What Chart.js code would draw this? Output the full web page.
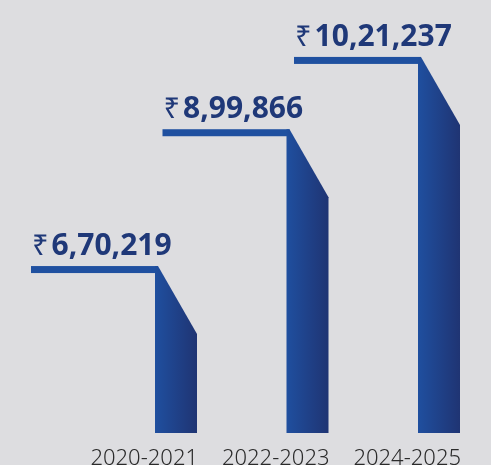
<!DOCTYPE html>
<html>
<head>
<meta charset="utf-8">
<script src="https://cdn.jsdelivr.net/npm/chart.js@4"></script>
<style>
  html, body { margin: 0; padding: 0; background: #dddde0; }
  #wrap { width: 491px; height: 465px; }
</style>
</head>
<body>
<div id="wrap"><canvas id="chart"></canvas></div>
<script>
const years = ['2020-2021', '2022-2023', '2024-2025'];
const amounts = [670219, 899866, 1021237];

// indian digit grouping: 10,21,237
function inr(n) {
  const s = String(n);
  const last3 = s.slice(-3);
  const rest = s.slice(0, -3);
  return rest ? rest.replace(/\B(?=(\d{2})+(?!\d))/g, ',') + ',' + last3 : last3;
}

// draws each bar as a flag: line to the left, slanted top, gradient body
const flagPlugin = {
  id: 'flags',
  afterDatasetsDraw(chart) {
    const ctx = chart.ctx;
    const meta = chart.getDatasetMeta(0);
    meta.data.forEach((bar, i) => {
      const left = bar.x - bar.width / 2;
      const right = bar.x + bar.width / 2;
      const top = bar.y;
      const bottom = bar.base;
      const lineLeft = left - 124;
      const thick = 7;
      const drop = 68;

      ctx.save();
      ctx.fillStyle = '#1f50a0';
      ctx.fillRect(lineLeft, top, left - lineLeft + 3, thick);

      const g = ctx.createLinearGradient(left, 0, right, 0);
      g.addColorStop(0, '#1f4f9f');
      g.addColorStop(1, '#1f3473');
      ctx.beginPath();
      ctx.moveTo(left, top);
      ctx.lineTo(left + 3, top);
      ctx.lineTo(right, top + drop);
      ctx.lineTo(right, bottom);
      ctx.lineTo(left, bottom);
      ctx.closePath();
      ctx.fillStyle = g;
      ctx.fill();

      // value label
      const base = top - 11;
      ctx.fillStyle = '#1f3878';
      ctx.textBaseline = 'alphabetic';
      ctx.textAlign = 'left';
      ctx.font = '400 29px "Noto Sans"';
      const sym = '\u20B9';
      ctx.fillText(sym, lineLeft + 1, base);
      const sw = ctx.measureText(sym).width;
      ctx.font = '700 30px "Noto Sans"';
      ctx.fillText(inr(amounts[i]), lineLeft + 1 + sw + 3, base);
      ctx.restore();
    });
  }
};

new Chart(document.getElementById('chart'), {
  type: 'bar',
  data: {
    labels: years,
    datasets: [{
      data: amounts,
      base: 390000,
      backgroundColor: 'rgba(0,0,0,0)',
      barThickness: 42
    }]
  },
  options: {
    responsive: true,
    maintainAspectRatio: false,
    animation: false,
    layout: { padding: { left: 176, right: 52, top: 10, bottom: 0 } },
    plugins: {
      legend: { display: false },
      tooltip: { enabled: false }
    },
    scales: {
      y: { display: false, min: 390000, max: 1100000 },
      x: {
        offset: false,
        afterFit(scale) { scale.height = 32; },
        grid: { display: false, drawTicks: false },
        border: { display: false },
        ticks: {
          align: 'end',
          labelOffset: 22,
          padding: 13,
          autoSkip: false,
          maxRotation: 0,
          color: '#2b2b2b',
          font: { family: 'Noto Sans', size: 22, weight: '300' }
        }
      }
    }
  },
  plugins: [flagPlugin]
});
</script>
</body>
</html>
